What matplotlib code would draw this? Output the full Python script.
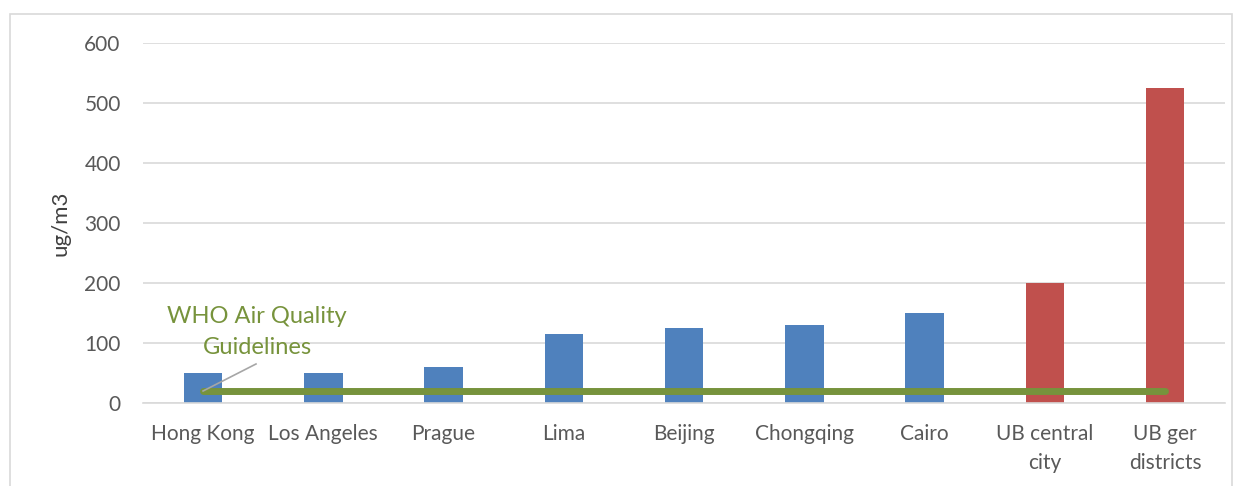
import matplotlib
matplotlib.use("Agg")
import matplotlib.pyplot as plt
from matplotlib.patches import Rectangle

# data
cities = ["Hong Kong", "Los Angeles", "Prague", "Lima", "Beijing",
          "Chongqing", "Cairo", "UB central\ncity", "UB ger\ndistricts"]
pm10 = [50, 50, 60, 115, 125, 130, 150, 200, 525]
ub_cities = ["UB central\ncity", "UB ger\ndistricts"]
who_guideline = 20

plt.rcParams['font.family'] = ['Lato', 'DejaVu Sans']

blue = "#4F81BD"
red = "#C0504D"
green = "#77933C"
grid_gray = "#D9D9D9"
text_gray = "#595959"

fig = plt.figure(figsize=(12.4, 4.86), dpi=100)
ax = fig.add_axes([0.1153, 0.1708, 0.8727, 0.7407])

# outer chart frame
fig.patches.append(Rectangle((10 / 1240, -0.1), 1222 / 1240, 1.1 - 14 / 486,
                             transform=fig.transFigure, fill=False,
                             edgecolor=grid_gray, lw=1.2))

x = list(range(len(cities)))
colors = [red if c in ub_cities else blue for c in cities]
ax.bar(x, pm10, width=0.32, color=colors, zorder=2)

# WHO guideline line from first to last category
ax.plot([x[0], x[-1]], [who_guideline, who_guideline], color=green, lw=5,
        solid_capstyle="round", zorder=3)

# label with leader line
ax.plot([x[0], x[0] + 0.44], [who_guideline, 65], color="#A6A6A6", lw=1.2,
        zorder=4)
ax.text(x[0] + 0.45, 75, "WHO Air Quality\nGuidelines", color=green,
        fontsize=17, ha="center", va="bottom", linespacing=1.6, zorder=4)

ax.set_xlim(-0.5, len(cities) - 0.5)
ax.set_ylim(0, 600)
ax.set_yticks(range(0, 601, 100))
ax.set_xticks(x)
ax.set_xticklabels(cities, fontsize=15, color=text_gray, linespacing=1.55)
ax.tick_params(axis="y", labelsize=15, labelcolor=text_gray, length=0, pad=16)
ax.tick_params(axis="x", length=0, pad=15)
ax.set_ylabel("ug/m3", fontsize=16, color="#404040", labelpad=10)

ax.grid(axis="y", color=grid_gray, lw=1.2, zorder=0)
for side in ["top", "right", "left"]:
    ax.spines[side].set_visible(False)
ax.spines["bottom"].set_color(grid_gray)
ax.spines["bottom"].set_linewidth(1.2)

fig.savefig("out.png", dpi=100)
